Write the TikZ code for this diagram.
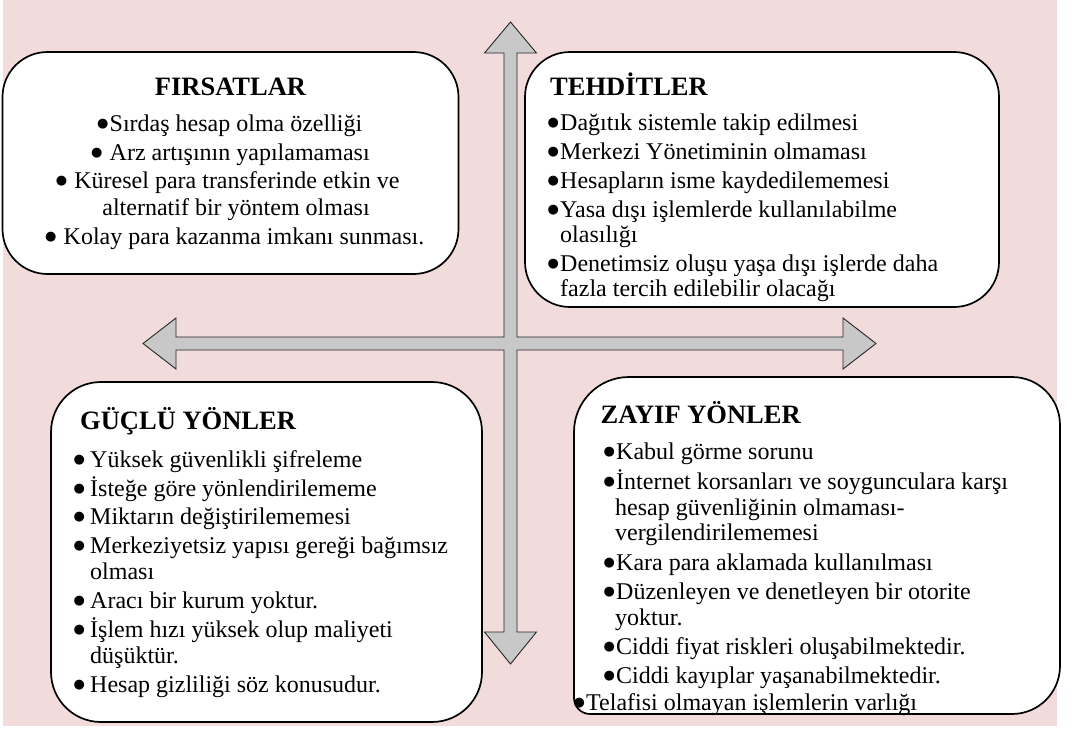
\documentclass[tikz,border=0pt]{standalone}
\usepackage{fontspec}
\setmainfont{Liberation Serif}
\newfontfamily\dejavu{DejaVu Sans}
\newcommand\bul{\makebox[12pt][l]{\hspace{-0.5pt}\raisebox{3.5pt}{\dejavu\fontsize{13}{13}\selectfont ●}}}
\begin{document}
\begin{tikzpicture}[x=1pt,y=-1pt,
  bg/.style={fill=pinkbg},
  box/.style={draw=black,line width=1.7pt,fill=white,rounded corners=45pt,inner sep=0pt},
  boxpath/.style={draw=black,line width=1.7pt,fill=white},
  crossshape/.style={draw=black!85,line width=0.9pt,fill=arrowgray,line join=miter},
  bodytxt/.style={inner sep=0pt,font=\fontsize{24}{28}\selectfont},
  titletxt/.style={inner sep=0pt,font=\fontsize{26.5}{30}\selectfont\bfseries}]
\definecolor{pinkbg}{HTML}{F2DCDB}
\definecolor{arrowgray}{HTML}{C8C8C8}
\useasboundingbox (0,0) rectangle (1074,734);
\fill[bg] (3,0) rectangle (1057,726);

% cross of four arrows (one outline)
\draw[crossshape] (510.5,22) -- (536.5,53) -- (517,53) -- (517,337) -- (843,337) -- (843,318)
  -- (876,343.5) -- (843,369) -- (843,350) -- (517,350) -- (517,632) -- (536.5,632)
  -- (510.5,664) -- (484.5,632) -- (504,632) -- (504,350) -- (176,350) -- (176,369)
  -- (143,343.5) -- (176,318) -- (176,337) -- (504,337) -- (504,53) -- (484.5,53) -- cycle;

% boxes
\node[box,minimum width=456pt,minimum height=222pt] (F) at (230.5,163) {};
\node[box,minimum width=474pt,minimum height=255pt] (T) at (762,179.5) {};
\node[box,minimum width=431pt,minimum height=340pt,rounded corners=50pt] (G) at (266.5,552) {};
\draw[boxpath] (629,377) -- (1012,377) .. controls (1038.5,377) and (1060,398.5) .. (1060,425)
  -- (1060,666) .. controls (1060,692.5) and (1038.5,714) .. (1012,714)
  -- (590,714) .. controls (581.2,714) and (574,706.8) .. (574,698)
  -- (574,432) .. controls (574,401.6) and (598.6,377) .. (629,377) -- cycle;
\coordinate (Z) at (817,545.5);

% FIRSATLAR
\node[titletxt,anchor=base] (Ft) at (230.5,95) {FIRSATLAR};
\node[bodytxt,anchor=base] (F1) at (230,131) {\bul Sırdaş hesap olma özelliği};
\node[bodytxt,anchor=base] (F2) at (230.7,160) {\bul\ Arz artışının yapılamaması};
\node[bodytxt,anchor=base] (F3) at (228,188) {\bul\ Küresel para transferinde etkin ve};
\node[bodytxt,anchor=base] (F4) at (236,215) {alternatif bir yöntem olması};
\node[bodytxt,anchor=base] (F5) at (235,244) {\bul\ Kolay para kazanma imkanı sunması.};

% TEHDITLER
\node[titletxt,anchor=base west] (Tt) at (550,95) {TEHDİTLER};
\foreach \xx/\yy/\txt [count=\i] in {
  548/130/{\bul Dağıtık sistemle takip edilmesi},
  548/159/{\bul Merkezi Yönetiminin olmaması},
  548/188/{\bul Hesapların isme kaydedilememesi},
  548/217/{\bul Yasa dışı işlemlerde kullanılabilme},
  560/242/{olasılığı},
  548/271/{\bul Denetimsiz oluşu yaşa dışı işlerde daha},
  560/296/{fazla tercih edilebilir olacağı}}
  \node[bodytxt,anchor=base west] (T\i) at (\xx,\yy) {\txt};

% GUCLU YONLER
\node[titletxt,anchor=base west] (Gt) at (80,429) {GÜÇLÜ YÖNLER};
\foreach \xx/\yy/\txt [count=\i] in {
  74/467/{\bul\hspace{4pt}Yüksek güvenlikli şifreleme},
  74/496/{\bul\hspace{4pt}İsteğe göre yönlendirilememe},
  74/524/{\bul\hspace{4pt}Miktarın değiştirilememesi},
  74/553/{\bul\hspace{4pt}Merkeziyetsiz yapısı gereği bağımsız},
  90/579/{olması},
  74/608/{\bul\hspace{4pt}Aracı bir kurum yoktur.},
  74/637/{\bul\hspace{4pt}İşlem hızı yüksek olup maliyeti},
  90/663/{düşüktür.},
  74/692/{\bul\hspace{4pt}Hesap gizliliği söz konusudur.}}
  \node[bodytxt,anchor=base west] (G\i) at (\xx,\yy) {\txt};

% ZAYIF YONLER
\node[titletxt,anchor=base west] (Zt) at (600.5,423) {ZAYIF YÖNLER};
\foreach \xx/\yy/\txt [count=\i] in {
  604/459/{\bul Kabul görme sorunu},
  604/489/{\bul İnternet korsanları ve soygunculara karşı},
  615/515/{hesap güvenliğinin olmaması-},
  615/540/{vergilendirilememesi},
  604/570/{\bul Kara para aklamada kullanılması},
  604/599/{\bul Düzenleyen ve denetleyen bir otorite},
  615/625/{yoktur.},
  604/654/{\bul Ciddi fiyat riskleri oluşabilmektedir.},
  604/683/{\bul Ciddi kayıplar yaşanabilmektedir.},
  574/710/{\bul Telafisi olmayan işlemlerin varlığı}}
  \node[bodytxt,anchor=base west] (Z\i) at (\xx,\yy) {\txt};
\end{tikzpicture}
\end{document}
